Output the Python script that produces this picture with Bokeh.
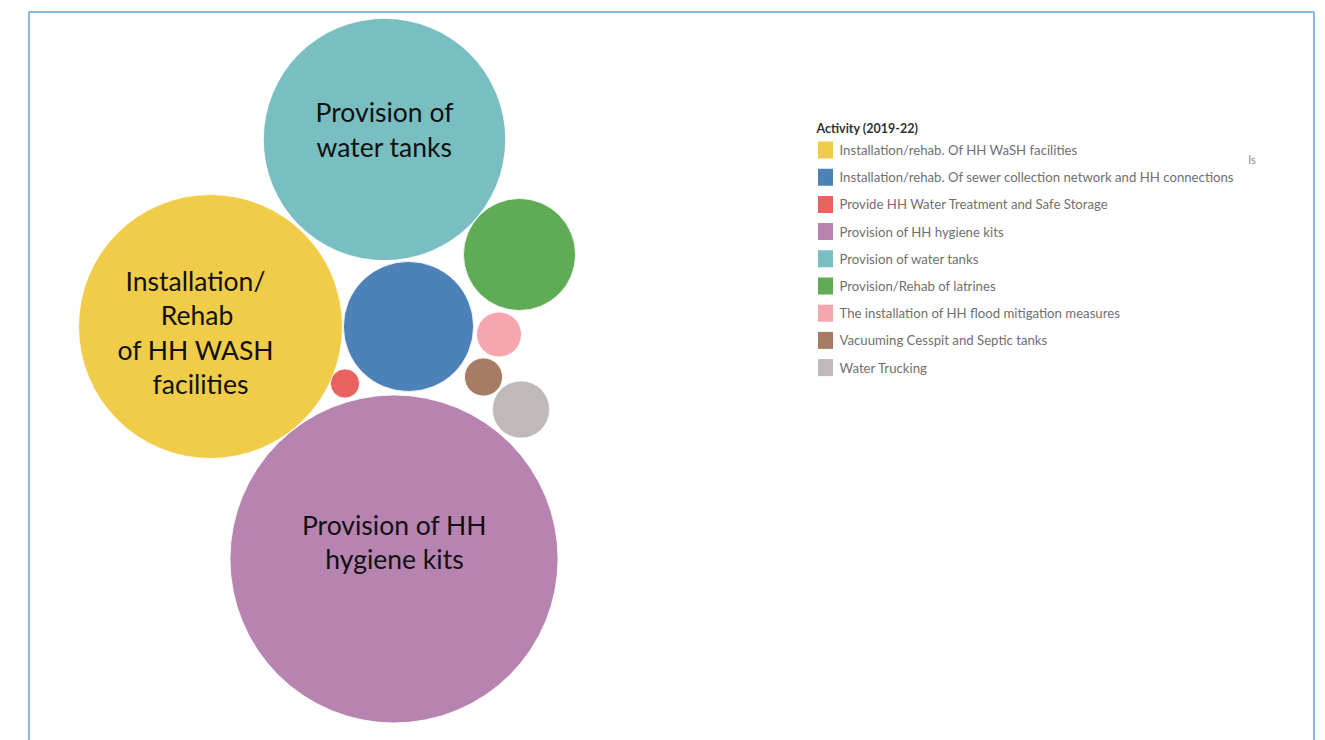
import math
from bokeh.plotting import figure
from bokeh.models import Range1d, ColumnDataSource
from bokeh.core.properties import value
from bokeh.embed import file_html
from bokeh.resources import INLINE

# Activities (legend order) and their share of the total, in percent
activities = [
    "Installation/rehab. Of HH WaSH facilities",
    "Installation/rehab. Of sewer collection network and HH connections",
    "Provide HH Water Treatment and Safe Storage",
    "Provision of HH hygiene kits",
    "Provision of water tanks",
    "Provision/Rehab of latrines",
    "The installation of HH flood mitigation measures",
    "Vacuuming Cesspit and Septic tanks",
    "Water Trucking",
]
share = [25.5, 6.2, 0.31, 39.4, 21.5, 4.6, 0.74, 0.53, 1.2]
colors = ["#F0CC48", "#4C82B8", "#E8625F", "#B783B0", "#79BEC0",
          "#60AB56", "#F7A6B0", "#A67D64", "#C0B9B9"]

# Packed-bubble layout: centres of each bubble on the page
centre_x = [210, 408, 344.5, 393.5, 384, 519, 498.5, 483, 520.5]
centre_y = [326, 326, 383, 558.5, 139, 254, 334, 376.5, 409]

# Bubble labels: one entry per text line (x, middle y, text)
label_lines = [
    (195, 280, "Installation/"),
    (196.5, 314.5, "Rehab"),
    (195.5, 349, "of HH WASH"),
    (200, 383, "facilities"),
    (384, 111.5, "Provision of"),
    (384, 146, "water tanks"),
    (394, 524, "Provision of HH"),
    (394, 558, "hygiene kits"),
]

W, H = 1325, 740
AREA_SCALE = 26.13  # pixels of radius per sqrt(percent)

p = figure(width=W, height=H, output_backend="svg", toolbar_location=None,
           x_range=Range1d(0, W), y_range=Range1d(H, 0),
           min_border=0, background_fill_color="white",
           border_fill_color="white", outline_line_color=None)
p.axis.visible = False
p.grid.visible = False

# frame around the panel
p.quad(left=[28.5], right=[1313.5], top=[11.5], bottom=[H + 20],
       fill_color=None, line_color="#8DB9E0", line_width=2)

radius = [AREA_SCALE * math.sqrt(s) for s in share]
src = ColumnDataSource(dict(x=centre_x, y=centre_y, r=radius,
                            color=colors, name=activities))
p.circle(x="x", y="y", radius="r", source=src, fill_color="color",
         line_color="white", line_width=0.8, fill_alpha=1.0)

p.text(x=[l[0] for l in label_lines], y=[l[1] for l in label_lines],
       text=[l[2] for l in label_lines], text_font=value("Lato"),
       text_font_size=value("26.5px"), text_color="#111111",
       text_align="center", text_baseline="middle")

# legend
LEG_X, LEG_Y, ROW = 817, 149.5, 27.2
p.text(x=[LEG_X - 1], y=[127.5], text=["Activity (2019-22)"],
       text_font=value("Lato"), text_font_size=value("12.5px"),
       text_font_style="bold", text_color="#333333",
       text_align="left", text_baseline="middle")
rows_y = [LEG_Y + i * ROW for i in range(len(activities))]
p.rect(x=[LEG_X + 8] * len(activities), y=rows_y, width=15, height=17,
       fill_color=colors, line_color=None)
p.text(x=[LEG_X + 22] * len(activities), y=rows_y, text=activities,
       text_font=value("Lato"), text_font_size=value("13.2px"),
       text_color="#707070", text_align="left", text_baseline="middle")
p.text(x=[1248], y=[159], text=["ls"], text_font=value("Lato"),
       text_font_size=value("11px"), text_color="#8a8a8a",
       text_align="left", text_baseline="middle")

open("out.html", "w").write(file_html(p, INLINE))
